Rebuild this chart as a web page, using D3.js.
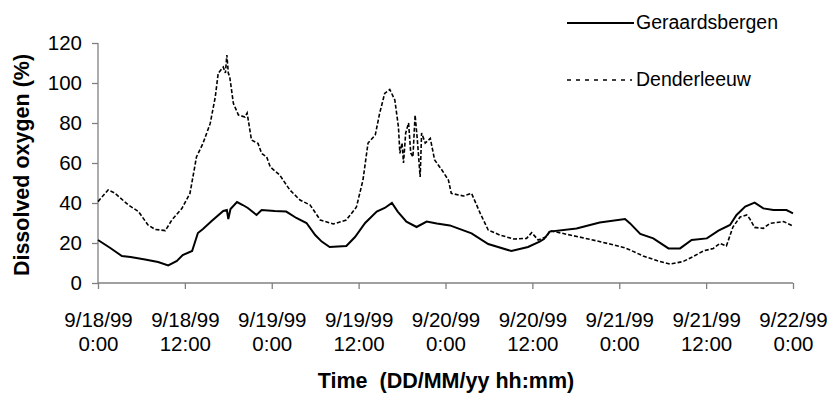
<!DOCTYPE html>
<html><head><meta charset="utf-8">
<script src="https://cdn.jsdelivr.net/npm/d3@7"></script>
<style>body{margin:0;background:#fff}svg{display:block;font-family:Arial,"Liberation Sans",sans-serif}</style>
</head><body><svg id="c" width="833" height="394"></svg>
<script>
// Data (hours since 9/18/99 0:00, dissolved oxygen %)
const hoursG = [0,1.7,3.3,4.5,6.5,8.3,9.7,10.9,11.7,13,13.8,14.5,15.7,17.3,17.8,18,18.3,19.2,20,20.7,21.9,22.6,24.4,26,27.4,28.8,30,30.9,32,34.3,35.5,36.9,38.5,39.6,40.6,41.4,42.6,44,45.4,46.8,48.6,51.6,53.9,57.1,59.4,61,61.6,62.4,66.1,69.3,72.8,73.5,74.9,76.7,78.8,80.4,82,84.1,85.7,87.3,88.2,89.4,90.7,91.9,93.3,95.1,96];
const valuesG = [21.5,17.5,13.5,13,11.8,10.5,8.8,11,14,16,25,27,31,36,36.5,32,37,40.5,39,37.5,34,36.5,36,35.7,32.5,30,24,20.7,18,18.5,23,30,35.7,37.5,40,35.7,30.7,28,30.7,29.8,28.8,24.8,19.5,16,18,20.7,22,25.7,27.3,30.2,32,29.8,24.5,22.3,17.3,17.3,21.5,22.3,26.2,29,34,38.2,40.2,37.3,36.5,36.5,34.8];
const hoursD = [0,1.4,2.3,4.2,5.6,6.9,7.9,9.3,10.2,11.6,12.7,13.2,13.6,14.5,15.5,16.2,16.6,17.3,17.6,17.8,18,18.2,18.7,19.4,20.3,20.6,21.2,22.1,22.6,23.3,23.8,25.1,26.5,27.9,29.3,30.7,32.5,34.3,35.7,36.6,37.3,38.3,38.9,39.6,40.3,41,41.5,41.7,42,42.2,42.5,42.9,43.2,43.5,43.8,44.1,44.5,44.7,45.2,45.9,46.5,47.5,48.4,48.8,50.5,51.6,52.8,53.9,55.5,57.4,59.2,59.9,60.8,62,62.4,65.2,68,70.7,72.6,73.5,75.3,77.2,79,80.8,82.2,83.6,85,85.9,86.8,87.7,88.7,89.6,90,90.7,91.9,92.8,94.7,96];
const valuesD = [40.7,46.5,45,39,35.7,29,26.8,26.2,31.5,37.3,44.8,54.8,63,69.8,79.8,93,104.8,108,105,114,105,103,89.8,84,83,85,71.5,69.8,64.8,63,58,54,46.5,41.5,39,31.5,29.5,31.5,38,51.5,70,74,84.8,94.8,96.8,91.5,78,64.8,70,60,75,80,65,63,84,72,53,75,70,72.3,61.5,56.5,51.5,44.8,43.5,44.8,34.8,26.5,24,22,22.3,25.2,21.5,23.2,26.2,24,21.8,19.5,17.8,16.5,13.5,11.2,9.5,10.7,13.2,16,17.3,19.8,18.5,28,33,34,32.3,27.8,27.3,29.8,30.7,28.5];
const tickHours = [0,12,24,36,48,60,72,84,96];
const tickDates = ["9/18/99","9/18/99","9/19/99","9/19/99","9/20/99","9/20/99","9/21/99","9/21/99","9/22/99"];
const tickTimes = ["0:00","12:00","0:00","12:00","0:00","12:00","0:00","12:00","0:00"];
const yTicks = [0,20,40,60,80,100,120];
const seriesNames = ["Geraardsbergen","Denderleeuw"];

const svg = d3.select("#c");
const x = d3.scaleLinear().domain([0,96]).range([98,793]);
const y = d3.scaleLinear().domain([0,120]).range([283,43]);
const axisCol = "#808080";
const FF = "Arial,'Liberation Sans',sans-serif";

// Y axis
const ya = svg.append("g").attr("transform","translate(98,0)")
  .call(d3.axisLeft(y).tickValues(yTicks).tickSize(6).tickPadding(10));
ya.selectAll("path,line").attr("stroke",axisCol).attr("stroke-width",1.3);
ya.select(".domain").attr("d","M0,43V283");
ya.selectAll("text").attr("font-size",20.5).attr("fill","#000").attr("font-family",FF);

// X axis
const xa = svg.append("g").attr("transform","translate(0,283)")
  .call(d3.axisBottom(x).tickValues(tickHours).tickSize(6).tickFormat(""));
xa.selectAll("path,line").attr("stroke",axisCol).attr("stroke-width",1.3);
xa.select(".domain").attr("d","M98,0H793");
xa.selectAll(".tick").each(function(d,i){
  const t = d3.select(this).append("text").attr("fill","#000").attr("font-size",20.5)
    .attr("text-anchor","middle").attr("font-family",FF);
  t.append("tspan").attr("x",0).attr("y",44).text(tickDates[i]);
  t.append("tspan").attr("x",0).attr("y",68).text(tickTimes[i]);
});

// Titles
svg.append("text").attr("x",446).attr("y",388).attr("text-anchor","middle")
  .attr("font-size",21.5).attr("font-weight","bold").attr("xml:space","preserve").text("Time  (DD/MM/yy hh:mm)");
svg.append("text").attr("transform","translate(29,165) rotate(-90)").attr("text-anchor","middle")
  .attr("font-size",21.5).attr("font-weight","bold").text("Dissolved oxygen (%)");

// Lines
const line = d3.line().x(d=>x(d[0])).y(d=>y(d[1]));
const dataG = hoursG.map((h,i)=>[h,valuesG[i]]);
const dataD = hoursD.map((h,i)=>[h,valuesD[i]]);
svg.append("path").datum(dataD).attr("d",line).attr("fill","none").attr("stroke","#000")
  .attr("stroke-width",1.6).attr("stroke-dasharray","4,2");
svg.append("path").datum(dataG).attr("d",line).attr("fill","none").attr("stroke","#000")
  .attr("stroke-width",2);

// Legend
const lg = svg.append("g");
lg.append("line").attr("x1",567).attr("x2",634).attr("y1",23).attr("y2",23).attr("stroke","#000").attr("stroke-width",2);
lg.append("text").attr("x",636).attr("y",29).attr("font-size",19.5).text(seriesNames[0]);
lg.append("line").attr("x1",567).attr("x2",632).attr("y1",80).attr("y2",80).attr("stroke","#000").attr("stroke-width",1.6).attr("stroke-dasharray","4,5");
lg.append("text").attr("x",636).attr("y",86).attr("font-size",19.5).text(seriesNames[1]);
</script></body></html>
